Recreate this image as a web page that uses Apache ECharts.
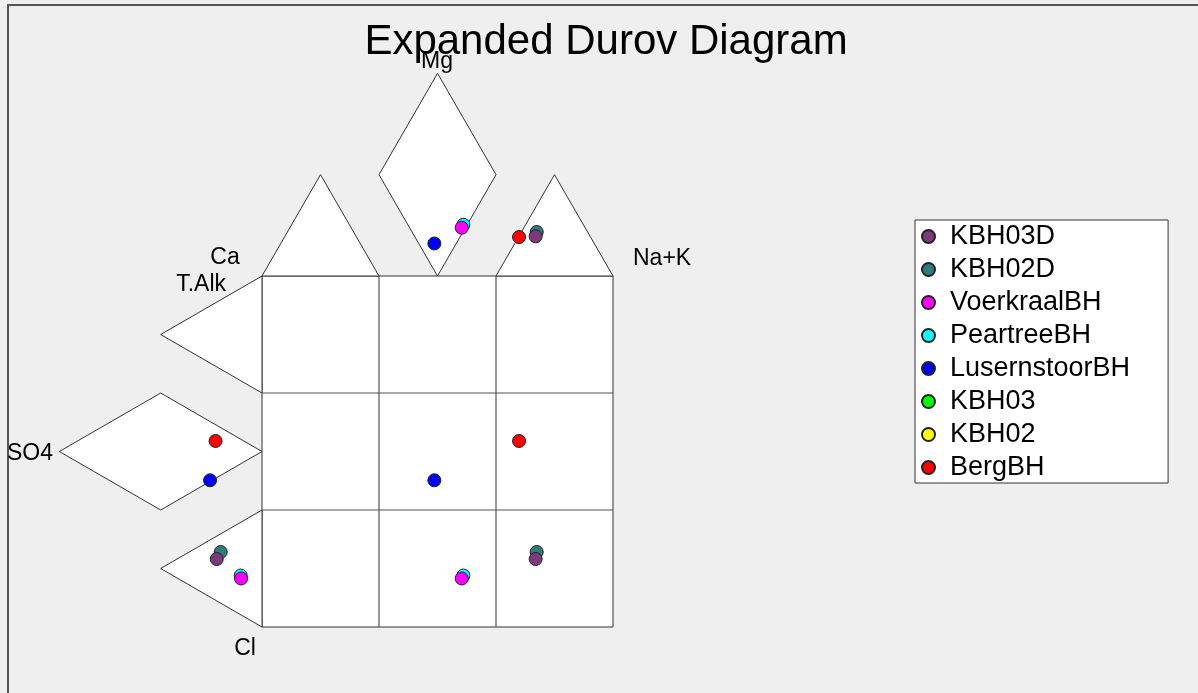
<!DOCTYPE html>
<html>
<head>
<meta charset="utf-8">
<script src="https://cdn.jsdelivr.net/npm/echarts@6/dist/echarts.min.js"></script>
<style>
  html, body { margin: 0; padding: 0; background: #efefef; }
  #chart { width: 1198px; height: 693px; }
</style>
</head>
<body>
<div id="chart"></div>
<script>
// samples in legend order
const samples = ['KBH03D', 'KBH02D', 'VoerkraalBH', 'PeartreeBH', 'LusernstoorBH', 'KBH03', 'KBH02', 'BergBH']
const colors = ['#7b3b7b', '#2e7b7b', '#ff00ff', '#00ffff', '#0000ff', '#00ff00', '#ffff00', '#ff0000']

// point positions (cell = 1 unit, central square 0..3)
// null = no data for that sample
const catX = [2.339, 2.348, 1.707, 1.721, 1.473, null, null, 2.197]
const catY = [3.339, 3.376, 3.413, 3.438, 3.278, null, null, 3.333]
const anX = [-0.387, -0.353, -0.179, -0.182, -0.444, null, null, -0.397]
const anY = [0.581, 0.641, 0.415, 0.440, 1.254, null, null, 1.590]

const h = Math.sqrt(3) / 2

// outline of the expanded Durov fields
const fields = [
  [[0, 0], [3, 0], [3, 3], [0, 3]],
  [[0, 3], [1, 3], [0.5, 3 + h]],
  [[1.5, 3], [1, 3 + h], [1.5, 3 + 2 * h], [2, 3 + h]],
  [[2, 3], [3, 3], [2.5, 3 + h]],
  [[0, 3], [0, 2], [-h, 2.5]],
  [[0, 1.5], [-h, 2], [-2 * h, 1.5], [-h, 1]],
  [[0, 1], [0, 0], [-h, 0.5]]
]
const gridLines = [
  [[1, 0], [1, 3]],
  [[2, 0], [2, 3]],
  [[0, 1], [3, 1]],
  [[0, 2], [3, 2]]
]

const chart = echarts.init(document.getElementById('chart'))

const series = [{
  type: 'custom',
  silent: true,
  z: 1,
  data: fields.map((f, i) => [i]),
  renderItem: (params, api) => {
    const pts = fields[params.dataIndex].map(p => api.coord(p))
    const children = [{
      type: 'polygon',
      shape: { points: pts },
      style: { fill: '#fff', stroke: '#333', lineWidth: 1 }
    }]
    if (params.dataIndex === 0) {
      gridLines.forEach(l => {
        children.push({
          type: 'polyline',
          shape: { points: l.map(p => api.coord(p)) },
          style: { fill: null, stroke: '#555', lineWidth: 1.2 }
        })
      })
    }
    return { type: 'group', children: children }
  }
}]

// draw last legend entry first so KBH03D ends up on top
for (let i = samples.length - 1; i >= 0; i--) {
  let pts = []
  if (catX[i] != null) {
    pts = [[catX[i], catY[i]], [anX[i], anY[i]], [catX[i], anY[i]]]
  }
  series.push({
    name: samples[i],
    type: 'scatter',
    z: 2,
    symbol: 'circle',
    symbolSize: 13,
    data: pts,
    itemStyle: { color: colors[i], borderColor: '#222', borderWidth: 1, opacity: 1 }
  })
}

const lbl = (text, x, y, align, size) => ({
  type: 'text',
  x: x,
  y: y,
  silent: true,
  style: {
    text: text,
    fill: '#000',
    font: (size || 23) + 'px "Liberation Sans", Arial, sans-serif',
    textAlign: align,
    textVerticalAlign: 'middle'
  }
})

chart.setOption({
  backgroundColor: '#efefef',
  animation: false,
  grid: { left: 28, top: 42, width: 1053, height: 643.5 },
  xAxis: { type: 'value', min: -2, max: 7, show: false },
  yAxis: { type: 'value', min: -0.5, max: 5, show: false },
  legend: {
    data: samples,
    orient: 'vertical',
    left: 915,
    top: 220,
    backgroundColor: '#fff',
    borderColor: '#333',
    borderWidth: 1,
    padding: [3, 38, 2, 6],
    itemWidth: 13,
    itemHeight: 13,
    itemGap: 6,
    icon: 'circle',
    selectedMode: false,
    textStyle: { fontSize: 27, fontFamily: 'Liberation Sans', color: '#000', padding: [0, 0, 0, 10] }
  },
  graphic: [
    {
      type: 'rect',
      silent: true,
      z: -10,
      shape: { x: 8, y: 5, width: 1400, height: 900 },
      style: { fill: null, stroke: '#555', lineWidth: 2 }
    },
    lbl('Expanded Durov Diagram', 606, 42, 'center', 42),
    lbl('Mg', 437, 62, 'center'),
    lbl('Ca', 225, 258, 'center'),
    lbl('T.Alk', 226, 285, 'right'),
    lbl('Na+K', 633, 259, 'left'),
    lbl('SO4', 7, 454, 'left'),
    lbl('Cl', 245, 649, 'center')
  ],
  series: series
})
</script>
</body>
</html>
